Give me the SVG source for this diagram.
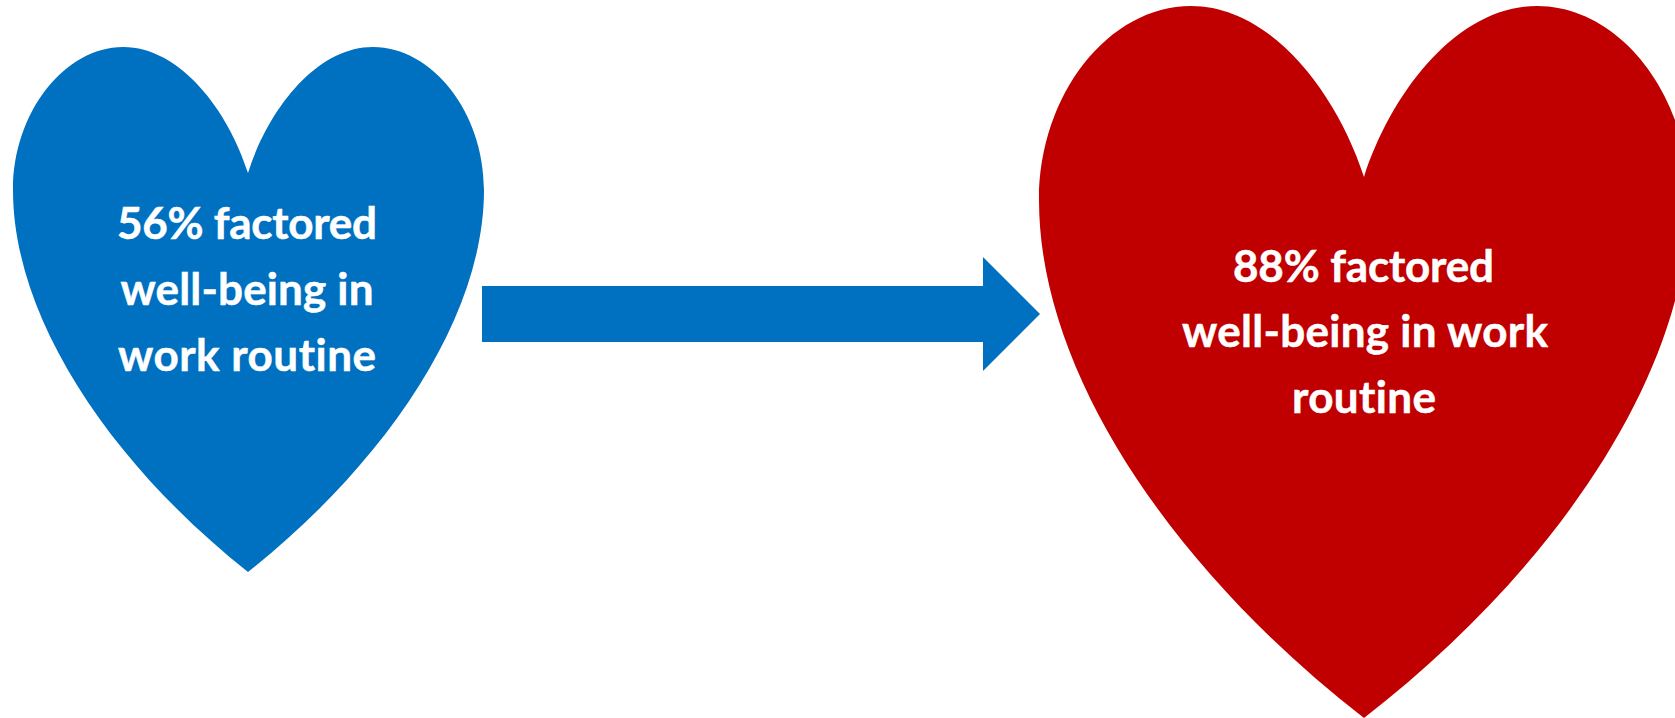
<svg xmlns="http://www.w3.org/2000/svg" width="1675" height="718" viewBox="0 0 1675 718">
<style>
.t{font-family:"Lato","Liberation Sans",sans-serif;font-weight:700;font-size:44px;fill:#fff;stroke:#fff;stroke-width:.5px;text-anchor:middle;font-variant-ligatures:none}
.blue{fill:#0070C0}
.red{fill:#C00000}
</style>
<rect width="1675" height="718" fill="#fff"/>
<g id="heart-56">
<path class="blue" d="M248 173C268 110 316 47 373 47C432 47 484 112 484 190C484 320 383 465 248 572C113 465 13 320 13 190C13 112 65 47 123 47C180 47 228 110 248 173Z"/>
<text class="t" x="247" y="239" textLength="260">56% factored</text>
<text class="t" x="247" y="305" textLength="253">well-being in</text>
<text class="t" x="247" y="371" textLength="258">work routine</text>
</g>
<g id="connectors">
<path class="blue" d="M482 286H983V257L1040 314L983 371V342H482Z"/>
</g>
<g id="heart-88">
<path class="red" d="M1364 177C1392 91 1458 6 1537 6C1619 6 1689 94 1689 200C1689 376 1551 573 1364 718C1177 573 1039 376 1039 200C1039 94 1109 6 1191 6C1270 6 1336 91 1364 177Z"/>
<text class="t" x="1363.500" y="282" textLength="261">88% factored</text>
<text class="t" x="1365" y="347" textLength="366">well-being in work</text>
<text class="t" x="1364" y="413" textLength="144">routine</text>
</g>
</svg>
